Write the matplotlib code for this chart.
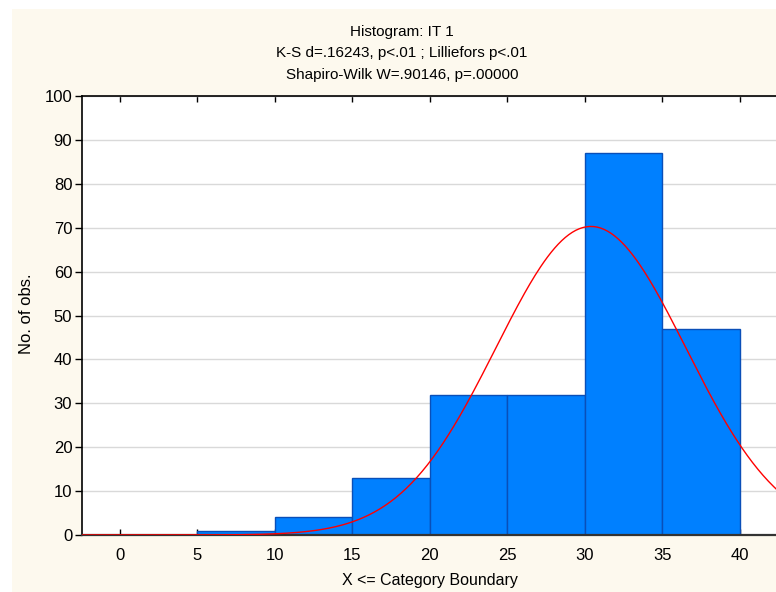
import matplotlib
matplotlib.use("Agg")
import matplotlib.pyplot as plt
from matplotlib.patches import Rectangle
import numpy as np

plt.rcParams['font.family'] = ['Liberation Sans', 'DejaVu Sans']

# histogram data (upper category boundary -> count)
bin_edges = [-5, 0, 5, 10, 15, 20, 25, 30, 35, 40]
counts = [0, 0, 1, 4, 13, 32, 32, 87, 47]
# fitted normal
fit_mean = 30.4
fit_sd = 6.13
n_obs = sum(counts)
bin_w = 5

title_lines = ["Histogram: IT 1",
               "K-S d=.16243, p<.01 ; Lilliefors p<.01",
               "Shapiro-Wilk W=.90146, p=.00000"]

fig = plt.figure(figsize=(7.76, 5.92), dpi=100)
fig.patch.set_facecolor('white')
fig.patches.append(Rectangle((12 / 776, 0), 1, 1 - 9 / 592, transform=fig.transFigure,
                             facecolor='#fdf9ee', edgecolor='none', zorder=-10))

ax = fig.add_axes([82 / 776, 1 - 535 / 592, 1 - 82 / 776 + 0.002, (535 - 96) / 592])
ax.set_facecolor('white')

lefts = bin_edges[:-1]
ax.bar(lefts, counts, width=bin_w, align='edge', color='#0080ff',
       edgecolor='#0a4fb8', linewidth=1.0, zorder=2)

xs = np.linspace(-2.5, 43, 400)
ys = n_obs * bin_w / (fit_sd * np.sqrt(2 * np.pi)) * np.exp(-0.5 * ((xs - fit_mean) / fit_sd) ** 2)
ax.plot(xs, ys, color='#ff0000', linewidth=1.0, zorder=3)

ax.set_xlim(-2.45, 42.45)
ax.set_ylim(0, 100)
ax.set_xticks(range(0, 45, 5))
ax.set_yticks(range(0, 110, 10))
ax.yaxis.grid(True, color='#d9d9d9', linewidth=1.0, zorder=0)
ax.set_axisbelow(True)

ax.tick_params(axis='y', direction='out', length=5, width=1, labelsize=12,
               right=True, pad=2)
ax.tick_params(axis='x', direction='in', length=4, width=1, labelsize=12,
               top=True, pad=9)
for side in ['left', 'top']:
    ax.spines[side].set_linewidth(1.2)
    ax.spines[side].set_color('black')
ax.spines['bottom'].set_linewidth(1.6)
ax.spines['bottom'].set_color('#333333')
ax.spines['right'].set_visible(False)

for i, t in enumerate(title_lines):
    fig.text(402 / 776, 1 - (32 + 21.5 * i) / 592, t, ha='center', va='center', fontsize=11)

fig.text(430 / 776, 1 - 580 / 592, "X <= Category Boundary", ha='center', va='center', fontsize=11.5)
fig.text(27 / 776, 1 - 314 / 592, "No. of obs.", ha='center', va='center', rotation=90, fontsize=12)

fig.savefig('out.png', dpi=100)
